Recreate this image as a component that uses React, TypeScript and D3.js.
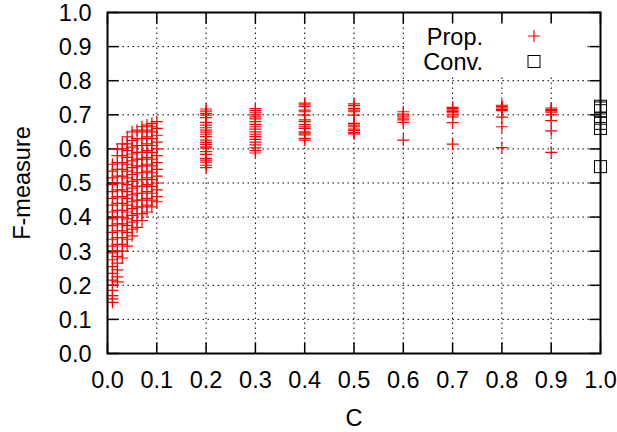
import React from "react";
import * as d3 from "d3";

// Proposed method: C value per column and the F-measure values observed there
const propC = [0.01, 0.02, 0.03, 0.04, 0.05, 0.06, 0.07, 0.08, 0.09, 0.1, 0.2, 0.3, 0.4, 0.5, 0.6, 0.7, 0.8, 0.9];
const propValues: number[][] = [
  [0.150, 0.160, 0.170, 0.185, 0.200, 0.215, 0.235, 0.255, 0.275, 0.295, 0.315, 0.335, 0.355, 0.375, 0.395, 0.415, 0.435, 0.455, 0.475, 0.495, 0.515, 0.535, 0.555],
  [0.210, 0.225, 0.245, 0.265, 0.285, 0.300, 0.320, 0.340, 0.360, 0.380, 0.400, 0.420, 0.440, 0.460, 0.480, 0.500, 0.520, 0.540, 0.560, 0.580, 0.600],
  [0.280, 0.300, 0.320, 0.340, 0.360, 0.380, 0.400, 0.420, 0.440, 0.460, 0.480, 0.500, 0.520, 0.540, 0.560, 0.580, 0.600, 0.615],
  [0.315, 0.335, 0.355, 0.375, 0.395, 0.415, 0.435, 0.455, 0.475, 0.495, 0.515, 0.535, 0.555, 0.575, 0.595, 0.615, 0.635],
  [0.345, 0.365, 0.385, 0.405, 0.425, 0.445, 0.465, 0.485, 0.505, 0.525, 0.545, 0.565, 0.585, 0.605, 0.625, 0.650],
  [0.370, 0.390, 0.410, 0.430, 0.450, 0.470, 0.490, 0.510, 0.530, 0.550, 0.570, 0.590, 0.610, 0.630, 0.655],
  [0.390, 0.410, 0.430, 0.450, 0.470, 0.490, 0.510, 0.530, 0.550, 0.570, 0.590, 0.610, 0.630, 0.650, 0.665],
  [0.415, 0.435, 0.455, 0.475, 0.495, 0.515, 0.535, 0.555, 0.575, 0.595, 0.615, 0.635, 0.655, 0.670],
  [0.430, 0.450, 0.470, 0.490, 0.510, 0.530, 0.550, 0.570, 0.590, 0.610, 0.630, 0.650, 0.665, 0.675],
  [0.445, 0.460, 0.480, 0.500, 0.520, 0.540, 0.560, 0.580, 0.600, 0.620, 0.640, 0.660, 0.680],
  [0.717, 0.711, 0.704, 0.699, 0.692, 0.678, 0.670, 0.662, 0.655, 0.649, 0.643, 0.636, 0.626, 0.619, 0.613, 0.606, 0.602, 0.592, 0.584, 0.572, 0.567, 0.561, 0.552, 0.545],
  [0.718, 0.712, 0.706, 0.700, 0.694, 0.688, 0.680, 0.672, 0.665, 0.658, 0.650, 0.643, 0.636, 0.628, 0.620, 0.612, 0.603, 0.595, 0.588],
  [0.734, 0.729, 0.724, 0.714, 0.709, 0.699, 0.685, 0.680, 0.671, 0.665, 0.660, 0.650, 0.646, 0.641, 0.631, 0.626],
  [0.732, 0.727, 0.719, 0.714, 0.709, 0.699, 0.675, 0.670, 0.665, 0.658, 0.654, 0.648, 0.644],
  [0.709, 0.702, 0.696, 0.690, 0.685, 0.678, 0.626],
  [0.722, 0.718, 0.714, 0.710, 0.706, 0.700, 0.694, 0.677, 0.614],
  [0.728, 0.724, 0.720, 0.716, 0.712, 0.693, 0.665, 0.604],
  [0.720, 0.716, 0.712, 0.708, 0.700, 0.683, 0.653, 0.590],
];

// Conventional method: all at C = 1.0
const convC = 1.0;
const convValues = [0.725, 0.720, 0.712, 0.690, 0.675, 0.660, 0.548];

const xTicks = [0, 0.1, 0.2, 0.3, 0.4, 0.5, 0.6, 0.7, 0.8, 0.9, 1.0];
const yTicks = [0, 0.1, 0.2, 0.3, 0.4, 0.5, 0.6, 0.7, 0.8, 0.9, 1.0];
const legendLabels = ["Prop.", "Conv."];

export default function App() {
  const W = 617, H = 432;
  const left = 107.5, right = 600.5, top = 12.5, bottom = 353.5;
  const x = d3.scaleLinear().domain([0, 1]).range([left, right]);
  const y = d3.scaleLinear().domain([0, 1]).range([bottom, top]);
  const font = "'Liberation Sans', Arial, Helvetica, sans-serif";
  const fs = 23.5;
  const tickLen = 11;
  const ms = 6; // marker half-size

  const propPoints: { c: number; v: number }[] = [];
  propC.forEach((c, i) => propValues[i].forEach((v) => propPoints.push({ c, v })));

  const plus = (cx: number, cy: number, key: string) => (
    <path key={key} d={`M${cx - ms},${cy}H${cx + ms}M${cx},${cy - ms}V${cy + ms}`} stroke="#ff0000" strokeWidth={1.2} fill="none" />
  );
  const square = (cx: number, cy: number, key: string) => (
    <rect key={key} x={cx - ms} y={cy - ms} width={2 * ms} height={2 * ms} stroke="#000" strokeWidth={1} fill="none" />
  );

  return (
    <svg width={W} height={H} style={{ position: "absolute", left: 0, top: 0, background: "#fff" }} fontFamily={font}>
      <rect x={0} y={0} width={W} height={H} fill="#fff" />
      {/* grid */}
      {xTicks.slice(1, -1).map((t) => (
        <line key={"gx" + t} x1={x(t)} x2={x(t)} y1={top} y2={bottom} stroke="#000" strokeWidth={1} strokeDasharray="1.5,3.5" />
      ))}
      {yTicks.slice(1, -1).map((t) => (
        <line key={"gy" + t} x1={left} x2={right} y1={y(t)} y2={y(t)} stroke="#000" strokeWidth={1} strokeDasharray="1.5,3.5" />
      ))}
      {/* legend area hides the grid */}
      <rect x={406} y={21} width={180} height={56} fill="#fff" />
      {/* ticks */}
      {xTicks.map((t) => (
        <g key={"tx" + t}>
          <line x1={x(t)} x2={x(t)} y1={bottom} y2={bottom - tickLen} stroke="#000" strokeWidth={1.5} />
          <line x1={x(t)} x2={x(t)} y1={top} y2={top + tickLen} stroke="#000" strokeWidth={1.5} />
          <text x={x(t)} y={bottom + 34} textAnchor="middle" fontSize={fs} fill="#000">{d3.format(".1f")(t)}</text>
        </g>
      ))}
      {yTicks.map((t) => (
        <g key={"ty" + t}>
          <line x1={left} x2={left + tickLen} y1={y(t)} y2={y(t)} stroke="#000" strokeWidth={1.5} />
          <line x1={right} x2={right - tickLen} y1={y(t)} y2={y(t)} stroke="#000" strokeWidth={1.5} />
          <text x={left - 16} y={y(t) + 8.3} textAnchor="end" fontSize={fs} fill="#000">{d3.format(".1f")(t)}</text>
        </g>
      ))}
      {/* data */}
      {propPoints.map((p, i) => plus(x(p.c), y(p.v), "p" + i))}
      {convValues.map((v, i) => square(x(convC), y(v), "c" + i))}
      {/* frame */}
      <rect x={left} y={top} width={right - left} height={bottom - top} fill="none" stroke="#000" strokeWidth={2} />
      {/* legend */}
      <text x={483} y={44.5} textAnchor="end" fontSize={fs} fill="#000">{legendLabels[0]}</text>
      <text x={483} y={70} textAnchor="end" fontSize={fs} fill="#000">{legendLabels[1]}</text>
      {plus(534, 36, "lp")}
      {square(534, 61.5, "lc")}
      {/* axis titles */}
      <text x={x(0.5)} y={425.5} textAnchor="middle" fontSize={fs} fill="#000">C</text>
      <text transform={`translate(30,${(top + bottom) / 2}) rotate(-90)`} textAnchor="middle" fontSize={fs} fill="#000">F-measure</text>
    </svg>
  );
}
